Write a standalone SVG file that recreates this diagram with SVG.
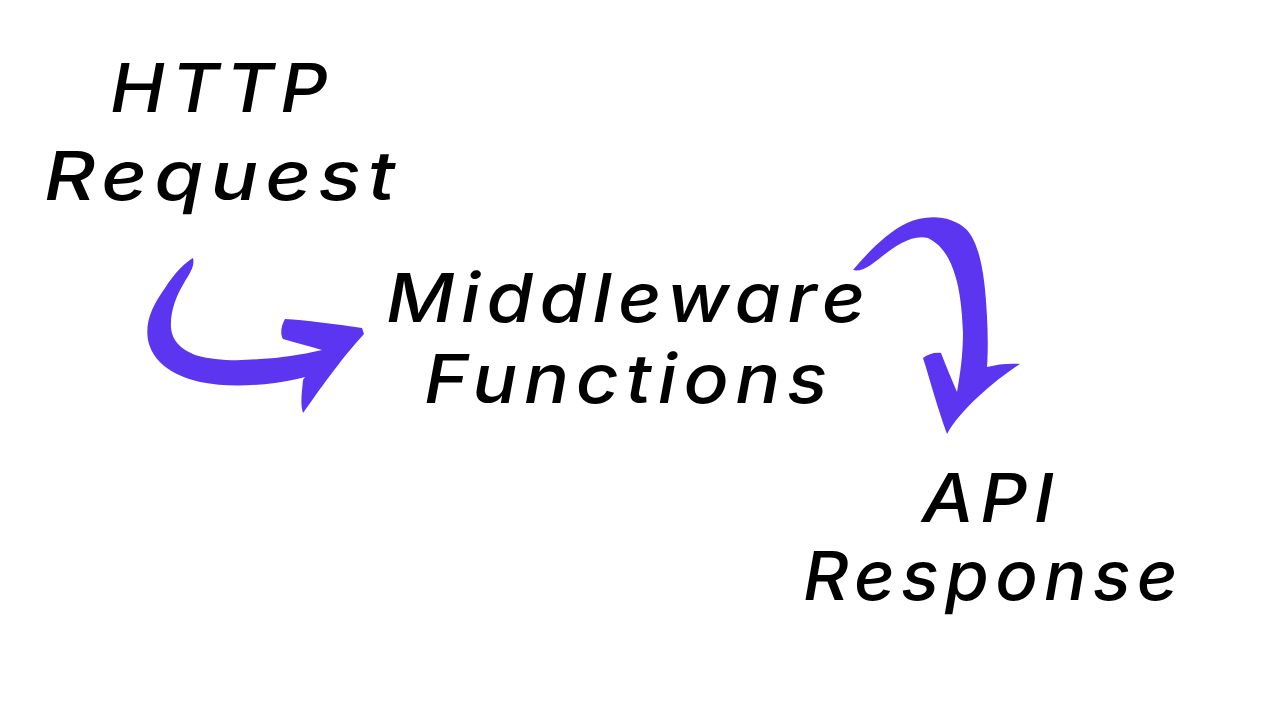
<svg xmlns="http://www.w3.org/2000/svg" width="1280" height="720" viewBox="0 0 1280 720">
<style>
.t{font-family:Inter,"DejaVu Sans",sans-serif;font-style:italic;font-weight:500;font-size:68px;fill:#000;letter-spacing:6px;}
.a{fill:#5B35F0;}
</style>
<rect width="1280" height="720" fill="#fff"/>
<g id="http-request">
<text class="t" x="110" y="112" textLength="224" lengthAdjust="spacingAndGlyphs">HTTP</text>
<text class="t" x="44" y="200" textLength="358" lengthAdjust="spacingAndGlyphs">Request</text>
</g>
<g id="middleware-functions">
<text class="t" x="386" y="322" textLength="486" lengthAdjust="spacingAndGlyphs">Middleware</text>
<text class="t" x="424" y="403" textLength="410" lengthAdjust="spacingAndGlyphs">Functions</text>
</g>
<g id="api-response">
<text class="t" x="922" y="522" textLength="138" lengthAdjust="spacingAndGlyphs">API</text>
<text class="t" x="803" y="600" textLength="381" lengthAdjust="spacingAndGlyphs">Response</text>
</g>
<g id="connectors">
<path class="a" d="M193,258 C186,262 175,272 165,288 C152,306 145,322 148,340 C152,360 170,375 200,382 C225,387 250,386 275,383 C288,381 298,379 305,377 L303,380 C302,392 300,404 303,413 C318,392 340,360 364,334 L362,328 C335,324 305,320 285,319 C281,326 280,334 283,339 C295,343 310,346 322,350 C300,355 280,358 260,359 C240,361 215,361 195,355 C180,349 172,340 171,328 C170,312 176,296 184,283 C190,273 195,266 193,258 Z"/>
<path class="a" d="M853,270 C870,250 888,232 907,223 C925,215 950,214 967,230 C980,245 985,275 987,317 C988,335 988,352 987,367 C998,364 1010,363 1020,364 C995,380 960,410 947,434 C938,410 930,380 923,358 C928,354 935,352 941,353 C946,366 952,380 957,392 C960,375 963,355 963,333 C962,310 960,290 955,275 C950,258 942,245 928,238 C912,234 895,246 880,258 C870,266 862,272 853,270 Z"/>
</g>
</svg>
